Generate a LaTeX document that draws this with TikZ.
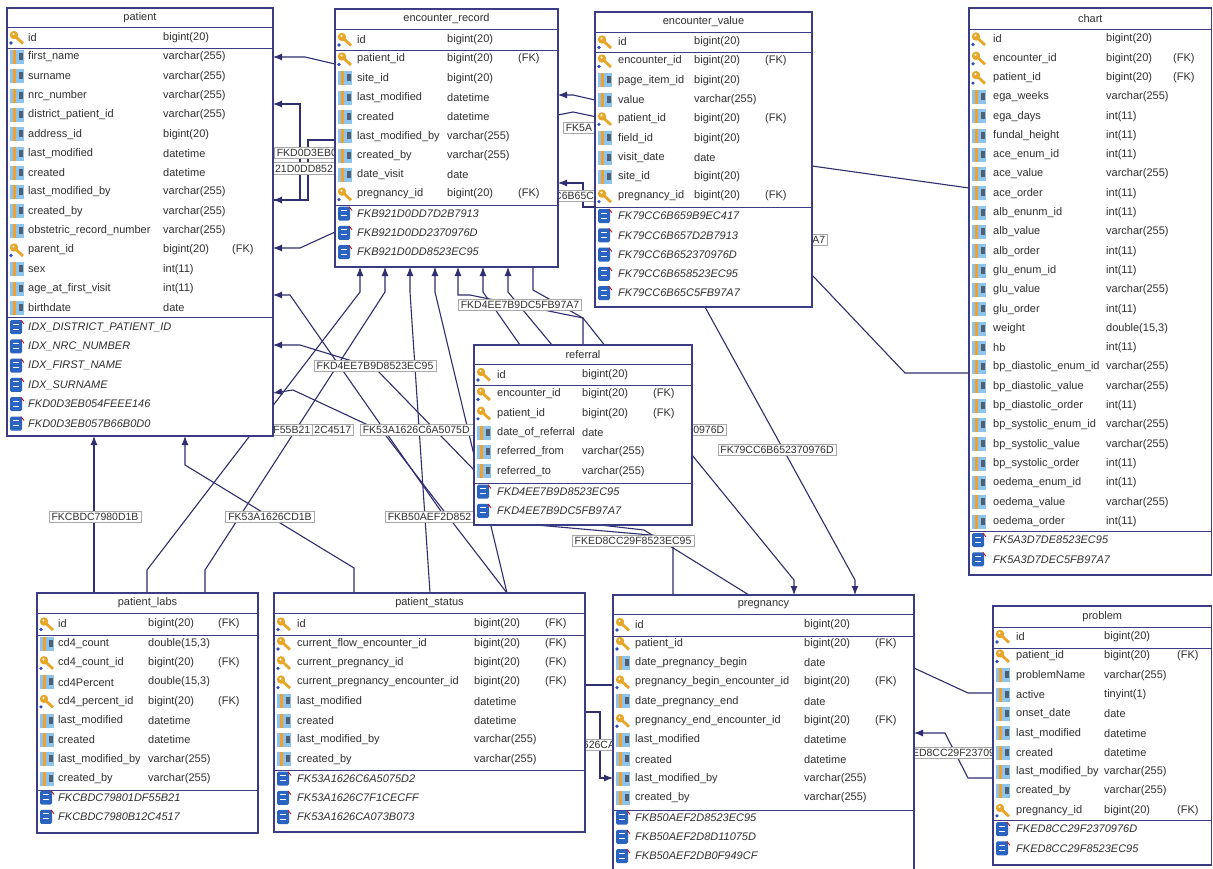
\documentclass[tikz,border=0pt]{standalone}
\usepackage{fontspec}
\setmainfont{Liberation Sans}
\usetikzlibrary{arrows.meta}
\pgfdeclarelayer{back}\pgfdeclarelayer{mid}\pgfsetlayers{back,mid,main}
\definecolor{tb}{HTML}{3C3C85}
\definecolor{ln}{HTML}{2E2E70}
\definecolor{tx}{HTML}{303030}
\definecolor{lb}{HTML}{A8A8A8}
\definecolor{keyor}{HTML}{E8A628}
\definecolor{keybl}{HTML}{3050C0}
\definecolor{colbl}{HTML}{8CC4EC}
\definecolor{colorg}{HTML}{F0A030}
\definecolor{colgr}{HTML}{506070}
\definecolor{idxbl}{HTML}{2A64C0}
\tikzset{
 tframe/.style={draw=tb, fill=white, line width=1.1pt, inner sep=0pt, outer sep=0pt},
 tline/.style={draw=tb, line width=1pt},
 cell/.style={anchor=west, inner sep=0pt, text=tx, font=\fontsize{11}{13}\selectfont},
 ttl/.style={anchor=center, inner sep=0pt, text=tx, font=\fontsize{11}{13}\selectfont},
 lbl/.style={draw=lb, fill=white, line width=0.6pt, inner xsep=2.5pt, inner ysep=2pt, text=tx, font=\fontsize{10.5}{12}\selectfont},
 fk/.style={draw=ln, line width=1.1pt},
 fka/.style={fk, -{Latex[length=9pt,width=7pt]}},
}
\newcount\rowcnt
\newcommand\Cols[5]{\def\cTX{#1}\def\cNX{#2}\def\cTY{#3}\def\cFX{#4}\def\cRX{#5}}
\newcommand\Tbl[7]{%
  \pgfmathsetmacro\tbW{#4-#2}\pgfmathsetmacro\tbH{#5-#3}%
  \node[tframe, minimum width=\tbW pt, minimum height=\tbH pt, anchor=north west] (#1) at (#2,#3) {};
  \draw[tline] (#2,#7) -- (#4,#7);
  \node[ttl] (#1t) at ({(#2+#4)/2},{(#3+#7)/2}) {#6};
}
\newcommand\Sep[1]{\draw[tline] (\cTX,#1) -- (\cRX,#1);}
\newcommand\At[1]{\def\cy{#1}}
\newcommand\IcK[2]{%
  \fill[keyor] ({#1+7},{#2-2.5}) circle (4.2pt);
  \draw[keyor, line width=2.8pt] ({#1+9},{#2-0.5}) -- ({#1+16},{#2+6});
  \fill[white] ({#1+6.5},{#2-3.5}) circle (1.2pt);
  \fill[keybl] ({#1+4},{#2+5.5}) circle (1.8pt);
}
\newcommand\IcC[2]{%
  \fill[colbl] ({#1+3},{#2-7}) rectangle ({#1+17},{#2+7});
  \fill[colorg] ({#1+5.5},{#2-7}) rectangle ({#1+9},{#2+7});
  \fill[colgr] ({#1+11.5},{#2-4}) rectangle ({#1+15.5},{#2+3});
}
\newcommand\IcX[2]{%
  \fill[idxbl, rounded corners=1.5pt] ({#1+3},{#2-7}) rectangle ({#1+15},{#2+7});
  \draw[white, line width=1pt] ({#1+6},{#2-3}) -- ({#1+12},{#2-3}) ({#1+6},{#2+2}) -- ({#1+12},{#2+2});
  \draw[red!80!black, line width=0.8pt] ({#1+14},{#2-7}) -- ({#1+17},{#2-3});
}
\newcommand\R[4]{%
  \global\advance\rowcnt by 1\relax
  \csname Ic#1\endcsname{\cTX}{\cy}%
  \node[cell] (r\the\rowcnt n) at (\cNX,\cy) {#2};%
  \node[cell] (r\the\rowcnt t) at (\cTY,\cy) {#3};%
  \if\relax\detokenize{#4}\relax\else\node[cell] (r\the\rowcnt f) at (\cFX,\cy) {#4};\fi
  \pgfmathsetmacro\cy{\cy+19.3}%
}
\newcommand\Ix[1]{%
  \global\advance\rowcnt by 1\relax
  \IcX{\cTX}{\cy}%
  \node[cell, font=\fontsize{11}{13}\selectfont\itshape] (r\the\rowcnt n) at (\cNX,\cy) {#1};%
  \pgfmathsetmacro\cy{\cy+19.3}%
}
\begin{document}
\begin{tikzpicture}[x=1pt,y=-1pt]
\useasboundingbox (0,0) rectangle (1213,868);
\begin{pgfonlayer}{back}
\fill[white] (0,0) rectangle (1213,868);
\end{pgfonlayer}

% ---------------- patient
\Cols{7}{28}{163}{232}{273}
\Tbl{patient}{7}{8}{273}{436}{patient}{27}
\At{37.5}\R{K}{id}{bigint(20)}{}
\Sep{48}
\At{57}
\R{C}{first\_name}{varchar(255)}{}
\R{C}{surname}{varchar(255)}{}
\R{C}{nrc\_number}{varchar(255)}{}
\R{C}{district\_patient\_id}{varchar(255)}{}
\R{C}{address\_id}{bigint(20)}{}
\R{C}{last\_modified}{datetime}{}
\R{C}{created}{datetime}{}
\R{C}{last\_modified\_by}{varchar(255)}{}
\R{C}{created\_by}{varchar(255)}{}
\R{C}{obstetric\_record\_number}{varchar(255)}{}
\R{K}{parent\_id}{bigint(20)}{(FK)}
\R{C}{sex}{int(11)}{}
\R{C}{age\_at\_first\_visit}{int(11)}{}
\R{C}{birthdate}{date}{}
\Sep{317.5}
\At{327}
\Ix{IDX\_DISTRICT\_PATIENT\_ID}
\Ix{IDX\_NRC\_NUMBER}
\Ix{IDX\_FIRST\_NAME}
\Ix{IDX\_SURNAME}
\Ix{FKD0D3EB054FEEE146}
\Ix{FKD0D3EB057B66B0D0}

% ---------------- encounter_record
\Cols{335}{357}{447}{518}{558}
\Tbl{er}{335}{9}{558}{267}{encounter\_record}{29}
\At{39.5}\R{K}{id}{bigint(20)}{}
\Sep{50.5}
\At{59}
\R{K}{patient\_id}{bigint(20)}{(FK)}
\R{C}{site\_id}{bigint(20)}{}
\R{C}{last\_modified}{datetime}{}
\R{C}{created}{datetime}{}
\R{C}{last\_modified\_by}{varchar(255)}{}
\R{C}{created\_by}{varchar(255)}{}
\R{C}{date\_visit}{date}{}
\R{K}{pregnancy\_id}{bigint(20)}{(FK)}
\Sep{205}
\At{213.5}
\Ix{FKB921D0DD7D2B7913}
\Ix{FKB921D0DD2370976D}
\Ix{FKB921D0DD8523EC95}

% ---------------- encounter_value
\Cols{595}{618}{694}{765}{812}
\Tbl{ev}{595}{12}{812}{307}{encounter\_value}{32}
\At{42}\R{K}{id}{bigint(20)}{}
\Sep{52}
\At{61}
\R{K}{encounter\_id}{bigint(20)}{(FK)}
\R{C}{page\_item\_id}{bigint(20)}{}
\R{C}{value}{varchar(255)}{}
\R{K}{patient\_id}{bigint(20)}{(FK)}
\R{C}{field\_id}{bigint(20)}{}
\R{C}{visit\_date}{date}{}
\R{C}{site\_id}{bigint(20)}{}
\R{K}{pregnancy\_id}{bigint(20)}{(FK)}
\Sep{207}
\At{216}
\Ix{FK79CC6B659B9EC417}
\Ix{FK79CC6B657D2B7913}
\Ix{FK79CC6B652370976D}
\Ix{FK79CC6B658523EC95}
\Ix{FK79CC6B65C5FB97A7}

% ---------------- chart
\Cols{969}{993}{1106}{1173}{1211.5}
\Tbl{chart}{969}{8}{1211.5}{575}{chart}{29}
\At{39}
\R{K}{id}{bigint(20)}{}
\R{K}{encounter\_id}{bigint(20)}{(FK)}
\R{K}{patient\_id}{bigint(20)}{(FK)}
\R{C}{ega\_weeks}{varchar(255)}{}
\R{C}{ega\_days}{int(11)}{}
\R{C}{fundal\_height}{int(11)}{}
\R{C}{ace\_enum\_id}{int(11)}{}
\R{C}{ace\_value}{varchar(255)}{}
\R{C}{ace\_order}{int(11)}{}
\R{C}{alb\_enunm\_id}{int(11)}{}
\R{C}{alb\_value}{varchar(255)}{}
\R{C}{alb\_order}{int(11)}{}
\R{C}{glu\_enum\_id}{int(11)}{}
\R{C}{glu\_value}{varchar(255)}{}
\R{C}{glu\_order}{int(11)}{}
\R{C}{weight}{double(15,3)}{}
\R{C}{hb}{int(11)}{}
\R{C}{bp\_diastolic\_enum\_id}{varchar(255)}{}
\R{C}{bp\_diastolic\_value}{varchar(255)}{}
\R{C}{bp\_diastolic\_order}{int(11)}{}
\R{C}{bp\_systolic\_enum\_id}{varchar(255)}{}
\R{C}{bp\_systolic\_value}{varchar(255)}{}
\R{C}{bp\_systolic\_order}{int(11)}{}
\R{C}{oedema\_enum\_id}{int(11)}{}
\R{C}{oedema\_value}{varchar(255)}{}
\R{C}{oedema\_order}{int(11)}{}
\Sep{531}
\At{540}
\Ix{FK5A3D7DE8523EC95}
\Ix{FK5A3D7DEC5FB97A7}

% ---------------- referral
\Cols{474}{497}{582}{653}{692}
\Tbl{ref}{474}{345}{692}{525}{referral}{364}
\At{374.5}\R{K}{id}{bigint(20)}{}
\Sep{385}
\At{394}
\R{K}{encounter\_id}{bigint(20)}{(FK)}
\R{K}{patient\_id}{bigint(20)}{(FK)}
\R{C}{date\_of\_referral}{date}{}
\R{C}{referred\_from}{varchar(255)}{}
\R{C}{referred\_to}{varchar(255)}{}
\Sep{483}
\At{491.5}
\Ix{FKD4EE7B9D8523EC95}
\Ix{FKD4EE7B9DC5FB97A7}

% ---------------- patient_labs
\Cols{37}{58}{148}{218}{258}
\Tbl{pl}{37}{593}{258}{833}{patient\_labs}{613}
\At{624}\R{K}{id}{bigint(20)}{(FK)}
\Sep{635}
\At{643.5}
\R{C}{cd4\_count}{double(15,3)}{}
\R{K}{cd4\_count\_id}{bigint(20)}{(FK)}
\R{C}{cd4Percent}{double(15,3)}{}
\R{K}{cd4\_percent\_id}{bigint(20)}{(FK)}
\R{C}{last\_modified}{datetime}{}
\R{C}{created}{datetime}{}
\R{C}{last\_modified\_by}{varchar(255)}{}
\R{C}{created\_by}{varchar(255)}{}
\Sep{790}
\At{797.5}
\Ix{FKCBDC79801DF55B21}
\Ix{FKCBDC7980B12C4517}

% ---------------- patient_status
\Cols{274}{297}{474}{545}{585}
\Tbl{ps}{274}{593}{585}{832}{patient\_status}{613}
\At{624}\R{K}{id}{bigint(20)}{(FK)}
\Sep{635}
\At{643.5}
\R{K}{current\_flow\_encounter\_id}{bigint(20)}{(FK)}
\R{K}{current\_pregnancy\_id}{bigint(20)}{(FK)}
\R{K}{current\_pregnancy\_encounter\_id}{bigint(20)}{(FK)}
\R{C}{last\_modified}{datetime}{}
\R{C}{created}{datetime}{}
\R{C}{last\_modified\_by}{varchar(255)}{}
\R{C}{created\_by}{varchar(255)}{}
\Sep{770}
\At{778.5}
\Ix{FK53A1626C6A5075D2}
\Ix{FK53A1626C7F1CECFF}
\Ix{FK53A1626CA073B073}

% ---------------- pregnancy
\Cols{613}{635}{804}{875}{914}
\Tbl{preg}{613}{595}{914}{875}{pregnancy}{614}
\At{624.5}\R{K}{id}{bigint(20)}{}
\Sep{636}
\At{643.5}
\R{K}{patient\_id}{bigint(20)}{(FK)}
\R{C}{date\_pregnancy\_begin}{date}{}
\R{K}{pregnancy\_begin\_encounter\_id}{bigint(20)}{(FK)}
\R{C}{date\_pregnancy\_end}{date}{}
\R{K}{pregnancy\_end\_encounter\_id}{bigint(20)}{(FK)}
\R{C}{last\_modified}{datetime}{}
\R{C}{created}{datetime}{}
\R{C}{last\_modified\_by}{varchar(255)}{}
\R{C}{created\_by}{varchar(255)}{}
\Sep{810}
\At{817.5}
\Ix{FKB50AEF2D8523EC95}
\Ix{FKB50AEF2D8D11075D}
\Ix{FKB50AEF2DB0F949CF}

% ---------------- problem
\Cols{993}{1016}{1104}{1177}{1211.5}
\Tbl{prob}{993}{606}{1211.5}{865}{problem}{627}
\At{636.5}\R{K}{id}{bigint(20)}{}
\Sep{648}
\At{656}
\R{K}{patient\_id}{bigint(20)}{(FK)}
\R{C}{problemName}{varchar(255)}{}
\R{C}{active}{tinyint(1)}{}
\R{C}{onset\_date}{date}{}
\R{C}{last\_modified}{datetime}{}
\R{C}{created}{datetime}{}
\R{C}{last\_modified\_by}{varchar(255)}{}
\R{C}{created\_by}{varchar(255)}{}
\R{K}{pregnancy\_id}{bigint(20)}{(FK)}
\Sep{820}
\At{829}
\Ix{FKED8CC29F2370976D}
\Ix{FKED8CC29F8523EC95}

% ---------------- connectors and labels
\begin{pgfonlayer}{mid}
\draw[fka] (er.west |- 0,64) -- (305,57) -- (patient.east |- 0,57);
\draw[fka] (patient.east |- 0,200) -- (300,200) -- (300,104) -- (patient.east |- 0,104);
\draw[fka] (er.west |- 0,140) -- (308,140) -- (308,200) -- (patient.east |- 0,200);
\draw[fka] (er.west |- 0,232) -- (300,248) -- (patient.east |- 0,248);
\draw[fka] (preg.north -| 673,0) -- (673,537) -- (445,517) -- (290,295) -- (patient.east |- 0,295);
\draw[fka] (ref.west |- 0,470) -- (375,368) -- (300,345) -- (patient.east |- 0,345);
\draw[fka] (ps.north -| 507,0) -- (383,432) -- (293,390) -- (patient.east |- 0,393);
\draw[fka] (pl.north -| 94,0) -- (patient.south -| 94,0);
\draw[fka] (ps.north -| 354,0) -- (354,568) -- (185,465) -- (patient.south -| 185,0);
\draw[fka] (pl.north -| 147,0) -- (147,570) -- (360,292) -- (er.south -| 360,0);
\draw[fka] (pl.north -| 205,0) -- (205,570) -- (385,292) -- (er.south -| 385,0);
\draw[fka] (ps.north -| 430,0) -- (410,292) -- (er.south -| 410,0);
\draw[fka] (ps.north -| 507,0) -- (435,292) -- (er.south -| 435,0);
\draw[fka] (ref.north -| 583,0) -- (583,318) -- (470,295) -- (458,295) -- (er.south -| 458,0);
\draw[fka] (ref.north -| 520,0) -- (483,292) -- (er.south -| 483,0);
\draw[fka] (ref.north -| 552,0) -- (508,292) -- (er.south -| 508,0);
\draw[fka] (er.south -| 533,0) -- (533,290) -- (583,318) -- (692,455) -- (794,580) -- (preg.north -| 794,0);
\draw[fka] (ev.south -| 705,0) -- (855,580) -- (preg.north -| 855,0);
\draw[fka] (ev.west |- 0,100) -- (573,95) -- (er.east |- 0,95);
\draw[fka] (ev.west |- 0,207) -- (583,207) -- (583,183) -- (er.east |- 0,183);
\draw[fk] (chart.west |- 0,188) -- (812,166) -- (597,117) -- (573,112) -- (er.east |- 0,115);
\draw[fk] (chart.west |- 0,373) -- (905,373) -- (ev.east |- 0,275);
\draw[fka] (prob.west |- 0,778) -- (968,778) -- (945,733) -- (preg.east |- 0,733);
\draw[fk] (prob.west |- 0,693) -- (968,693) -- (914,668) -- (749,595) -- (644,530) -- (ref.south -| 600,0);
\draw[fk] (ps.east |- 0,685) -- (preg.west |- 0,685);
\draw[fka] (ps.east |- 0,712) -- (600,712) -- (600,778) -- (preg.west |- 0,778);

\node[lbl, anchor=west, text width=75pt, align=left] (l1) at (274,153) {FKD0D3EB0};
\node[lbl, minimum width=110pt] (l2) at (304,168.5) {21D0DD852};
\node[lbl, anchor=west, text width=50pt, align=left] (l3) at (563,128) {FK5A};
\node[lbl, minimum width=80pt] (l4) at (577,196) {C6B65C5};
\node[lbl, anchor=east, text width=40pt, align=right] (l5) at (828,240) {7A7};
\node[lbl] (l6) at (520,305) {FKD4EE7B9DC5FB97A7};
\node[lbl] (l7) at (375,366) {FKD4EE7B9D8523EC95};
\node[lbl, anchor=east, text width=60pt, align=right] (l9) at (354,430) {2C4517};
\node[lbl, anchor=east, text width=60pt, align=right] (l8) at (313,430) {F55B21};
\node[lbl, anchor=west, text width=130pt, align=left] (l10) at (360,430) {FK53A1626C6A5075D};
\node[lbl, anchor=east, text width=60pt, align=right] (l11) at (727,430) {0976D};
\node[lbl] (l12) at (777,450) {FK79CC6B652370976D};
\node[lbl] (l13) at (95,517) {FKCBDC7980D1B};
\node[lbl] (l14) at (270,517) {FK53A1626CD1B};
\node[lbl, anchor=west, text width=100pt, align=left] (l15) at (385,517) {FKB50AEF2D852};
\node[lbl] (l16) at (633,541) {FKED8CC29F8523EC95};
\node[lbl, minimum width=80pt] (l17) at (599,745) {626CA};
\node[lbl, minimum width=130pt] (l18) at (953.5,753) {ED8CC29F23709};
\end{pgfonlayer}
\end{tikzpicture}
\end{document}
